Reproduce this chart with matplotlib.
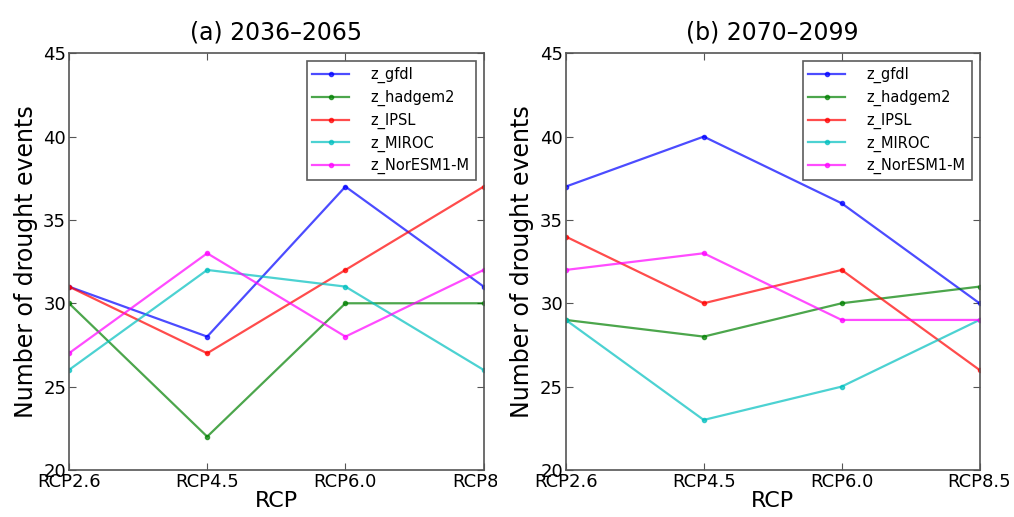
import matplotlib
matplotlib.use("Agg")
import matplotlib.pyplot as plt
from matplotlib.transforms import Bbox

categories = ["RCP2.6", "RCP4.5", "RCP6.0", "RCP8.5"]
models = ["z_gfdl", "z_hadgem2", "z_IPSL", "z_MIROC", "z_NorESM1-M"]
colors = ["#0000ff", "#008000", "#ff0000", "#00bfbf", "#ff00ff"]

# (a) 2036-2065
a_gfdl = [31, 28, 37, 31]
a_hadgem2 = [30, 22, 30, 30]
a_ipsl = [31, 27, 32, 37]
a_miroc = [26, 32, 31, 26]
a_noresm = [27, 33, 28, 32]

# (b) 2070-2099
b_gfdl = [37, 40, 36, 30]
b_hadgem2 = [29, 28, 30, 31]
b_ipsl = [34, 30, 32, 26]
b_miroc = [29, 23, 25, 29]
b_noresm = [32, 33, 29, 29]

panels = [
    ("(a) 2036\u20132065", [a_gfdl, a_hadgem2, a_ipsl, a_miroc, a_noresm]),
    ("(b) 2070\u20132099", [b_gfdl, b_hadgem2, b_ipsl, b_miroc, b_noresm]),
]

fig = plt.figure(figsize=(10.14, 5.17), dpi=100)
axes_pos = [[0.068, 0.091, 0.409, 0.806], [0.558, 0.091, 0.408, 0.806]]

for i, (title, series) in enumerate(panels):
    ax = fig.add_axes(axes_pos[i])
    x = list(range(len(categories)))
    for name, vals, c in zip(models, series, colors):
        ax.plot(x, vals, color=c, alpha=0.7, lw=1.6, marker='o', ms=3, label=name)
    ax.set_xlim(0, 3)
    ax.set_ylim(20, 45)
    ax.set_yticks([20, 25, 30, 35, 40, 45])
    ax.set_xticks(x)
    ax.set_xticklabels(categories)
    ax.tick_params(direction='in', top=True, right=True, labelsize=13, length=5,
                   color='#555555', pad=2)
    for s in ax.spines.values():
        s.set_color('#555555')
        s.set_linewidth(1.2)
    ax.set_title(title, fontsize=17, pad=10)
    ax.set_xlabel("RCP", fontsize=16, labelpad=0)
    ax.set_ylabel("Number of drought events", fontsize=17, labelpad=4)
    leg = ax.legend(loc='upper right', fontsize=10.5, frameon=True, fancybox=False,
                    handlelength=2.5, borderpad=0.4, labelspacing=0.45,
                    handletextpad=1.5, borderaxespad=0.55)
    leg.get_frame().set_edgecolor('#333333')
    leg.get_frame().set_linewidth(1.2)
    if i == 0:
        clip = Bbox.from_extents(0, 0, 497, 517)
        for t in ax.get_xticklabels():
            t.set_clip_on(True)
            t.set_clip_box(clip)

fig.savefig("out.png", dpi=100)
